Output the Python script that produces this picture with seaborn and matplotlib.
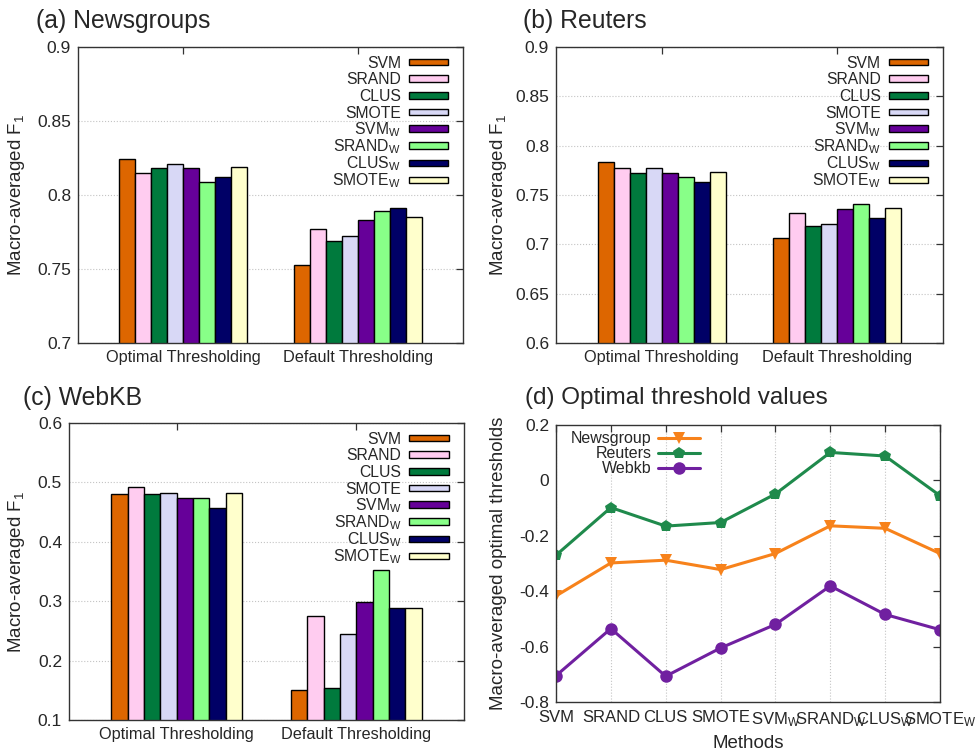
import numpy as np
import pandas as pd
import matplotlib
matplotlib.use("Agg")
import matplotlib.pyplot as plt
import matplotlib.patches as mpatches
from matplotlib.lines import Line2D
from matplotlib.legend_handler import HandlerPatch
from matplotlib.ticker import FuncFormatter
import seaborn as sns

methods = ["SVM", "SRAND", "CLUS", "SMOTE",
           r"SVM$_\mathregular{W}$", r"SRAND$_\mathregular{W}$",
           r"CLUS$_\mathregular{W}$", r"SMOTE$_\mathregular{W}$"]
groups = ["Optimal Thresholding", "Default Thresholding"]
bar_colors = ["#dd6600", "#ffccf0", "#007a3d", "#d8d8f6",
              "#660099", "#88ff88", "#000066", "#ffffcc"]

news_opt = [0.824, 0.815, 0.818, 0.821, 0.818, 0.809, 0.812, 0.819]
news_def = [0.753, 0.777, 0.769, 0.7725, 0.783, 0.789, 0.7915, 0.785]
reut_opt = [0.783, 0.777, 0.7725, 0.777, 0.772, 0.768, 0.763, 0.773]
reut_def = [0.706, 0.732, 0.719, 0.721, 0.736, 0.741, 0.727, 0.737]
webkb_opt = [0.480, 0.492, 0.481, 0.482, 0.473, 0.473, 0.457, 0.482]
webkb_def = [0.151, 0.275, 0.154, 0.245, 0.298, 0.352, 0.288, 0.289]

# panel (d): optimal thresholds per method
thr_news = [-0.417, -0.298, -0.288, -0.322, -0.264, -0.164, -0.173, -0.264]
thr_reut = [-0.270, -0.098, -0.165, -0.152, -0.049, 0.101, 0.088, -0.055]
thr_webkb = [-0.705, -0.535, -0.707, -0.605, -0.520, -0.381, -0.484, -0.539]
line_names = ["Newsgroup", "Reuters", "Webkb"]
line_colors = ["#f7821b", "#1f8a4c", "#7020a0"]
line_markers = ["v", "p", "o"]

sns.set_theme(style="white")
plt.rcParams["font.family"] = ["Liberation Sans", "DejaVu Sans"]
plt.rcParams["mathtext.default"] = "regular"
plt.rcParams["axes.unicode_minus"] = False

fig = plt.figure(figsize=(9.76, 7.55), dpi=100)
W, H = 976, 755


def box(x0, y0, x1, y1):
    return [x0 / W, 1 - y1 / H, (x1 - x0) / W, (y1 - y0) / H]


def thin_box(legend, orig_handle, xdescent, ydescent, width, height, fontsize):
    # flat key box centred on the text, gnuplot style
    hh = 0.42 * fontsize
    return mpatches.Rectangle((-xdescent, 0.36 * fontsize - hh / 2), width, hh)


def style_axes(ax):
    for s in ax.spines.values():
        s.set_linewidth(1.0)
        s.set_color("#333333")
    ax.tick_params(direction="in", top=True, right=True, length=5,
                   width=0.9, color="#333333", labelsize=12.5, pad=5)


def bar_panel(rect, opt, dflt, ylim, yticks, title, title_xy, ylab_x):
    ax = fig.add_axes(box(*rect))
    df = pd.DataFrame({
        "group": np.repeat(groups, len(methods)),
        "method": methods * 2,
        "value": list(opt) + list(dflt),
    })
    sns.barplot(data=df, x="group", y="value", hue="method", order=groups,
                hue_order=methods, palette=bar_colors, saturation=1,
                width=8 / 11, gap=0, errorbar=None, edgecolor="black",
                linewidth=1.0, legend=False, ax=ax)
    ax.set_xlim(-0.6, 1.6)
    ax.set_ylim(*ylim)
    ax.set_yticks(yticks)
    ax.yaxis.set_major_formatter(FuncFormatter(lambda v, p: "%g" % round(v, 3)))
    ax.set_axisbelow(True)
    ax.yaxis.grid(True, linestyle=":", color="#c4c4c4", linewidth=0.8)
    ax.set_xlabel("")
    ax.set_ylabel(r"Macro-averaged F$_1$", fontsize=13.5)
    ax.yaxis.set_label_coords(ylab_x, 0.5)
    style_axes(ax)
    ax.tick_params(axis="x", labelsize=11.7)
    handles = [mpatches.Patch(facecolor=c, edgecolor="black", linewidth=1.0, label=m)
               for m, c in zip(methods, bar_colors)]
    ax.legend(handles=handles, loc="upper right", frameon=False, markerfirst=False,
              fontsize=11.3, handlelength=2.5, handleheight=1.45, labelspacing=-0.13,
              handletextpad=0.5, borderaxespad=0, bbox_to_anchor=(0.977, 1.0),
              handler_map={mpatches.Patch: HandlerPatch(patch_func=thin_box)})
    fig.text(title_xy[0] / W, 1 - title_xy[1] / H, title, fontsize=17.8, va="baseline")
    return ax


bar_panel((78, 47, 463, 343), news_opt, news_def, (0.7, 0.9),
          [0.7, 0.75, 0.8, 0.85, 0.9], "(a) Newsgroups", (36, 28), -0.132)
bar_panel((556, 47, 943, 343), reut_opt, reut_def, (0.6, 0.9),
          [0.6, 0.65, 0.7, 0.75, 0.8, 0.85, 0.9], "(b) Reuters", (523, 28), -0.121)
bar_panel((69, 423, 464, 720), webkb_opt, webkb_def, (0.1, 0.6),
          [0.1, 0.2, 0.3, 0.4, 0.5, 0.6], "(c) WebKB", (23, 405), -0.106)

# panel (d)
ax = fig.add_axes(box(556, 425, 940, 702))
df = pd.DataFrame({
    "idx": list(range(len(methods))) * 3,
    "dataset": np.repeat(line_names, len(methods)),
    "value": thr_news + thr_reut + thr_webkb,
})
sns.lineplot(data=df, x="idx", y="value", hue="dataset", style="dataset",
             hue_order=line_names, style_order=line_names,
             palette=line_colors, markers=dict(zip(line_names, line_markers)),
             dashes=False, linewidth=2.2, markersize=9, markeredgewidth=0,
             legend=False, ax=ax)
ax.set_xlim(0, len(methods) - 1)
ax.set_ylim(-0.8, 0.2)
ax.set_xticks(range(len(methods)))
ax.set_xticklabels(methods)
ax.set_yticks([-0.8, -0.6, -0.4, -0.2, 0, 0.2])
ax.yaxis.set_major_formatter(FuncFormatter(lambda v, p: "%g" % round(v, 3)))
ax.set_axisbelow(True)
ax.xaxis.grid(True, linestyle=":", color="#c4c4c4", linewidth=0.8)
ax.set_xlabel("Methods", fontsize=13.5)
ax.set_ylabel("Macro-averaged optimal thresholds", fontsize=13.5)
ax.yaxis.set_label_coords(-0.128, 0.5)
style_axes(ax)
ax.tick_params(axis="x", labelsize=12, pad=6)
handles = [Line2D([0], [0], color=c, marker=m, markersize=9, markeredgewidth=0,
                  linewidth=2.2, label=n)
           for n, c, m in zip(line_names, line_colors, line_markers)]
ax.legend(handles=handles, loc="upper left", frameon=False, markerfirst=False,
          fontsize=11.5, handlelength=2.6, labelspacing=0.0, handletextpad=0.4,
          borderaxespad=0, numpoints=1, bbox_to_anchor=(0.023, 1.0))
fig.text(525 / W, 1 - 404 / H, "(d) Optimal threshold values", fontsize=17.5, va="baseline")

fig.savefig("out.png", dpi=100)
